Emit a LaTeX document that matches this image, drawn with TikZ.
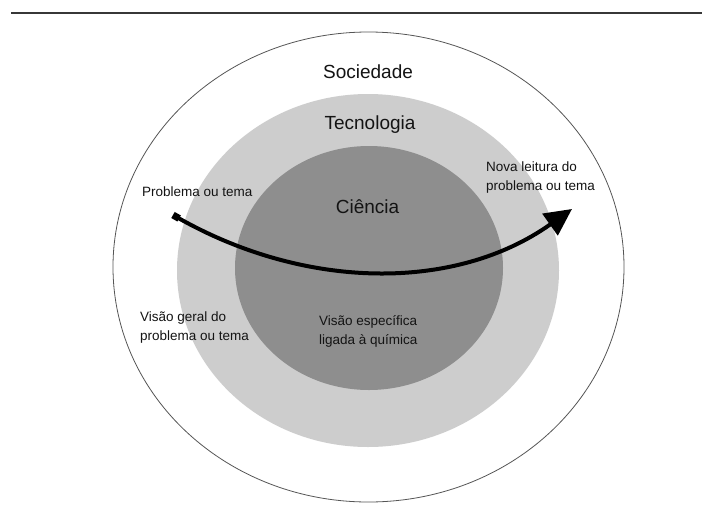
\documentclass[tikz,border=0pt]{standalone}
\usepackage{fontspec}
\setmainfont{Liberation Sans}
\usetikzlibrary{arrows.meta}
\definecolor{lightring}{RGB}{205,205,205}
\definecolor{darkcore}{RGB}{142,142,142}
\definecolor{rimline}{RGB}{85,85,85}
\definecolor{ruleline}{RGB}{55,55,55}
\begin{document}
\begin{tikzpicture}[x=1pt,y=-1pt,
  title/.style={inner sep=0pt,font=\fontsize{19}{22}\selectfont,text=black!92},
  label/.style={inner sep=0pt,anchor=west,align=left,font=\fontsize{13.5}{19}\selectfont,text=black!92},
  flow/.style={line width=4pt,black,{Square[length=7pt,width=7pt]}-{Triangle[length=27pt,width=26pt]}}]
\useasboundingbox (0,0) rectangle (702,504);
\draw[ruleline,line width=1.3pt] (11,13) -- (702,13);
\draw[rimline,line width=0.8pt,fill=white] (368.5,267) ellipse [x radius=255.5,y radius=235];
\fill[lightring] (368,270.5) ellipse [x radius=191,y radius=176.5];
\fill[darkcore] (369,268) ellipse [x radius=134,y radius=122];
\node[title] (soc) at (368,72) {Sociedade};
\node[title] (tec) at (370,125) {Tecnologia};
\node[title] (cie) at (367.5,207) {Ciência};
\node[label] (prob) at (142,192) {Problema ou tema};
\node[label] (nova) at (486,177.5) {Nova leitura do\\problema ou tema};
\node[label] (geral) at (140,327.5) {Visão geral do\\problema ou tema};
\node[label] (espec) at (319,331) {Visão específica\\ligada à química};
\coordinate (start) at (173,215);
\coordinate (end) at (572,209);
\draw[flow] (start) .. controls (305,290) and (455,292) .. (end);
\end{tikzpicture}
\end{document}
